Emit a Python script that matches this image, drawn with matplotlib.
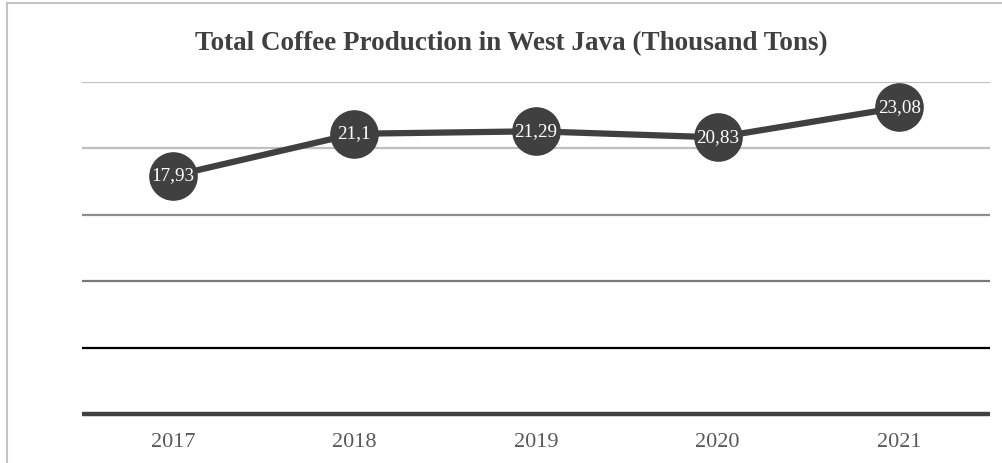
import matplotlib
matplotlib.use("Agg")
import matplotlib.pyplot as plt
from matplotlib.patches import Rectangle

years = ["2017", "2018", "2019", "2020", "2021"]
production = [17.93, 21.1, 21.29, 20.83, 23.08]
labels = ["17,93", "21,1", "21,29", "20,83", "23,08"]
grid_levels = [5, 10, 15, 20, 25]
grid_colors = ["black", "#7a7a7a", "#8c8c8c", "#bfbfbf", "#bfbfbf"]

plt.rcParams["font.family"] = ["Liberation Serif", "DejaVu Serif"]

fig = plt.figure(figsize=(10.02, 4.63), dpi=100)
ax = fig.add_axes([0.0818, 0.1058, 0.9062, 0.7171])

# outer frame (runs off the right and bottom edge)
fig.patches.append(Rectangle((7 / 1002, -0.05), 1.1, (463 - 3) / 463 + 0.05,
                             transform=fig.transFigure, fill=False,
                             edgecolor="#c4c4c4", linewidth=1.5))

x = list(range(len(years)))

for lvl, c in zip(grid_levels, grid_colors):
    ax.axhline(lvl, color=c, linewidth=1.6, zorder=1, solid_capstyle="butt")
ax.axhline(0, color="#404040", linewidth=3.2, zorder=2, clip_on=False,
           solid_capstyle="butt")

ax.plot(x, production, color="#404040", linewidth=4.5, marker="o",
        markersize=34, markerfacecolor="#404040", markeredgecolor="#404040",
        zorder=3, solid_capstyle="round")

for xi, yi, lab in zip(x, production, labels):
    ax.text(xi, yi, lab, color="white", fontsize=13.8, ha="center",
            va="center", zorder=4)

ax.set_xlim(-0.5, 4.5)
ax.set_ylim(0, 25)
ax.set_xticks(x)
ax.set_xticklabels(years, fontsize=16, color="#595959")
ax.set_yticks([])
ax.tick_params(axis="x", length=0, pad=14)
for s in ax.spines.values():
    s.set_visible(False)

fig.text(0.51, 0.905, "Total Coffee Production in West Java (Thousand Tons)",
         ha="center", va="center", fontsize=19.5, fontweight="bold",
         color="#404040")

fig.savefig("out.png", dpi=100)
